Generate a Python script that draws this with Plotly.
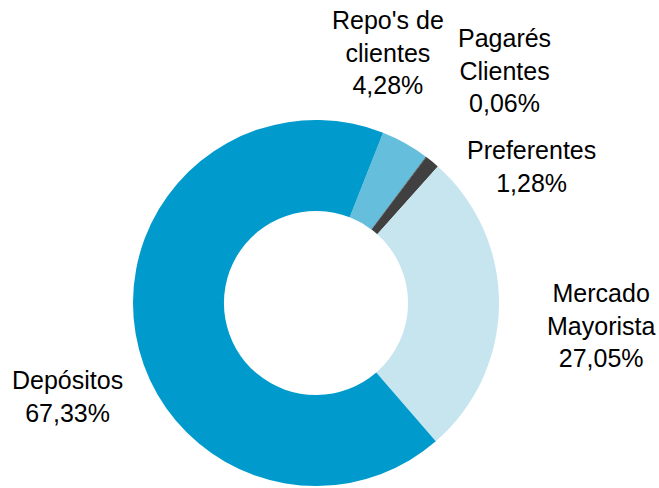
import plotly.graph_objects as go

categories = ["Repo's de clientes", "Pagarés Clientes", "Preferentes", "Mercado Mayorista", "Depósitos"]
label_lines = ["Repo's de<br>clientes", "Pagarés<br>Clientes", "Preferentes", "Mercado<br>Mayorista", "Depósitos"]
values = [4.28, 0.06, 1.28, 27.05, 67.33]
colors = ["#66BEDD", "#2A2A2A", "#404040", "#C6E5EF", "#009BCC"]

# label anchor positions in pixels (x center, y middle) within the 659x488 canvas
W, H = 659, 488
label_pos = [(388, 52), (504, 71), (531, 166), (601, 325), (67, 396)]

cx, cy, r = 316, 303, 183

fig = go.Figure()
fig.add_trace(go.Pie(
    labels=categories,
    values=values,
    hole=0.503,
    sort=False,
    direction="clockwise",
    rotation=21.5,
    marker=dict(colors=colors, line=dict(width=0)),
    textinfo="none",
    hoverinfo="label+percent",
    showlegend=False,
    domain=dict(x=[(cx - r) / W, (cx + r) / W], y=[(H - cy - r) / H, (H - cy + r) / H]),
))

for txt, v, (px, py) in zip(label_lines, values, label_pos):
    fig.add_annotation(
        x=px / W, y=1 - py / H, xref="paper", yref="paper",
        text=f"{txt}<br>{v:.2f}%".replace(".", ","),
        showarrow=False, xanchor="center", yanchor="middle",
        font=dict(family="Liberation Sans, Arial, sans-serif", size=25, color="#000000"),
        align="center",
    )

fig.update_layout(
    width=W, height=H,
    margin=dict(l=0, r=0, t=0, b=0),
    paper_bgcolor="white", plot_bgcolor="white",
)

fig.write_html("out.html", config={"displayModeBar": False},
               post_script="document.body.style.margin='0';")
